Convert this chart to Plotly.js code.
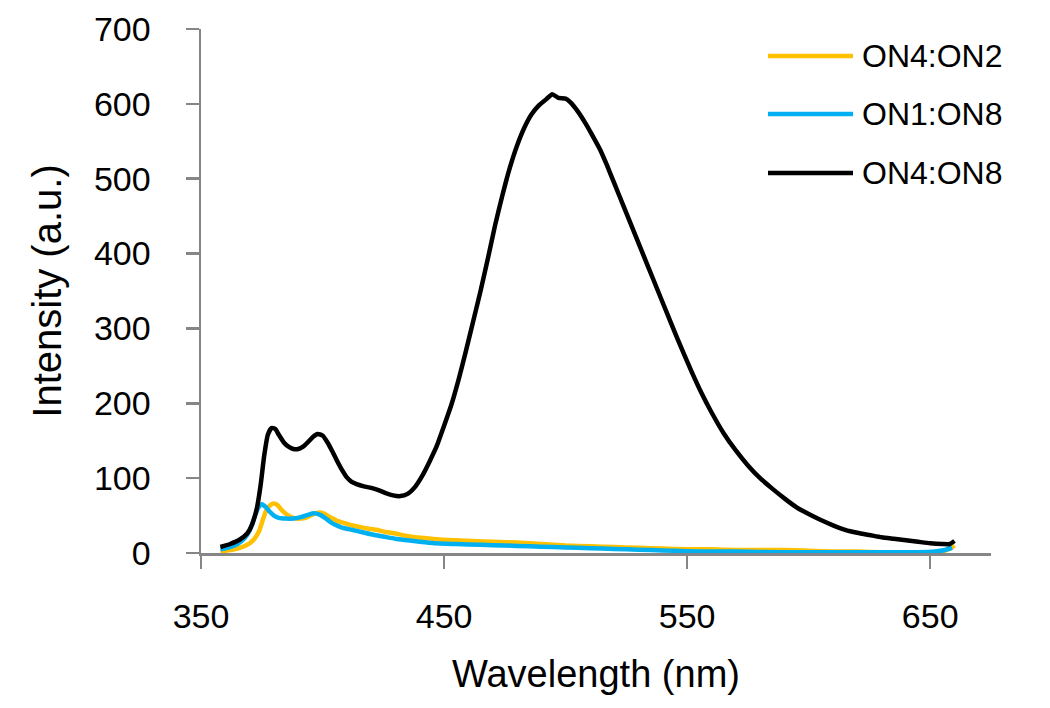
<!DOCTYPE html>
<html>
<head>
<meta charset="utf-8">
<script src="https://cdn.plot.ly/plotly-3.0.1.min.js"></script>
<style>html,body{margin:0;padding:0;background:#fff;}#chart{width:1050px;height:708px;}</style>
</head>
<body>
<div id="chart"></div>
<script>
// ---- data ----
const seriesNames = ["ON4:ON2", "ON1:ON8", "ON4:ON8"];

const on42_x = [358,362,366,370,372,374,375.5,377,378.5,380,381.5,383,385,387,389,391,393,395,397,399,401,403,406,409,412,415,418,422,426,430,434,438,442,448,455,462,470,480,490,500,510,520,530,540,550,560,570,580,590,600,610,620,630,640,650,655,658,660];
const on42_y = [2,4,7,13,19,30,45,58,64,66,64,58,52,48,46,46,47,50,53,54,52,48,43,40,37,35,33,31,28,26,23,21,20,18,17,16,15,14,12,10,9,8,7,6,5,5,4,4,4,3,2,2,1,1,1,2,6,10];

const on18_x = [358,362,365,368,370,372,373.5,375,376.5,378,380,382,385,388,391,394,396.5,399,401,403,405,408,412,416,420,425,430,435,440,446,455,465,475,485,495,505,515,525,535,545,555,570,590,610,630,645,652,656,659];
const on18_y = [5,8,12,20,30,48,60,65,62,56,50,47,46,46,48,51,53,51,47,42,38,34,31,28,25,22,19,17,15,13,12,11,10,9,8,7,6,5,4,3,2,2,1,1,1,1,2,4,7];

const on48_x = [358,362,366,369,371,373,374.5,376,377.5,379,380.5,382,384,386,388,390,392,394,396,398,400,402,404,406,408,410,412,414,417,420,423,426,429,432,435,438,441,444,447,450,453,456,459,462,465,468,471,474,477,480,483,486,489,492,494.5,497,500,502,505,508,511,514,517,520,524,528,532,536,540,544,548,552,556,560,565,570,575,580,585,590,595,600,605,610,615,620,625,630,635,640,645,650,655,658,660];
const on48_y = [8,12,18,26,38,60,90,130,158,167,166,158,148,142,139,139,142,148,155,159,157,148,136,123,111,101,95,92,89,87,84,80,77,76,79,88,103,122,143,170,198,232,270,310,350,393,438,478,514,544,568,586,598,606,613,608,607,602,590,575,558,540,518,494,462,430,398,366,334,302,271,241,213,188,160,137,117,100,86,73,61,52,44,37,31,27,24,21,19,17,15,13,12,12,16];

const xTickVals = [350, 450, 550, 650];
const yTickVals = [0, 100, 200, 300, 400, 500, 600, 700];

// ---- styling ----
const colors = ["#FFC000", "#00B0F0", "#000000"];
const W = 1050, H = 708;
const L = 201, R = 59, T = 29, B = 155;
const axisGray = "#868686";
const FONT = "Liberation Sans, Arial, sans-serif";

const traces = [
  {x: on42_x, y: on42_y, name: seriesNames[0], line: {color: colors[0], width: 4.5, shape: "spline", smoothing: 0.5}},
  {x: on18_x, y: on18_y, name: seriesNames[1], line: {color: colors[1], width: 4.5, shape: "spline", smoothing: 0.5}},
  {x: on48_x, y: on48_y, name: seriesNames[2], line: {color: colors[2], width: 4.5, shape: "spline", smoothing: 0.5}}
].map(t => Object.assign({type: "scatter", mode: "lines", hoverinfo: "skip"}, t));

// custom legend (long line samples like the reference)
const pw = W - L - R, ph = H - T - B;
const px2x = p => (p - L) / pw;
const px2y = p => (H - B - p) / ph;
const legendRows = [56, 114, 173];
const shapes = [], annotations = [];
seriesNames.forEach((n, i) => {
  shapes.push({type: "line", xref: "paper", yref: "paper",
    x0: px2x(768), x1: px2x(853), y0: px2y(legendRows[i]), y1: px2y(legendRows[i]),
    line: {color: colors[i], width: 4.5}});
  annotations.push({xref: "paper", yref: "paper", x: px2x(860), y: px2y(legendRows[i]),
    xanchor: "left", yanchor: "middle", showarrow: false, text: n,
    font: {family: FONT, size: 32, color: "#000"}});
});

const layout = {
  width: W, height: H,
  margin: {l: L, r: R, t: T, b: B, pad: 0},
  paper_bgcolor: "#fff", plot_bgcolor: "#fff",
  showlegend: false,
  font: {family: FONT, color: "#000"},
  xaxis: {
    range: [350, 675], tickvals: xTickVals, ticktext: xTickVals.map(String),
    showgrid: false, zeroline: false, showline: true, linecolor: axisGray, linewidth: 2.5,
    ticks: "outside", ticklen: 13, tickwidth: 2.5, tickcolor: axisGray,
    tickfont: {family: FONT, size: 34, color: "#000"}, ticklabelstandoff: 19,
    title: {text: "Wavelength (nm)", font: {family: FONT, size: 38, color: "#000"}, standoff: 26},
    automargin: false
  },
  yaxis: {
    range: [0, 700], tickvals: yTickVals, ticktext: yTickVals.map(String),
    showgrid: false, zeroline: false, showline: true, linecolor: axisGray, linewidth: 2.5,
    ticks: "outside", ticklen: 13, tickwidth: 2.5, tickcolor: axisGray,
    tickfont: {family: FONT, size: 34, color: "#000"}, ticklabelstandoff: 28,
    title: {text: "Intensity (a.u.)", font: {family: FONT, size: 40, color: "#000"}, standoff: 20},
    automargin: false
  },
  shapes: shapes,
  annotations: annotations
};

Plotly.newPlot("chart", traces, layout, {staticPlot: true, displayModeBar: false});
</script>
</body>
</html>
